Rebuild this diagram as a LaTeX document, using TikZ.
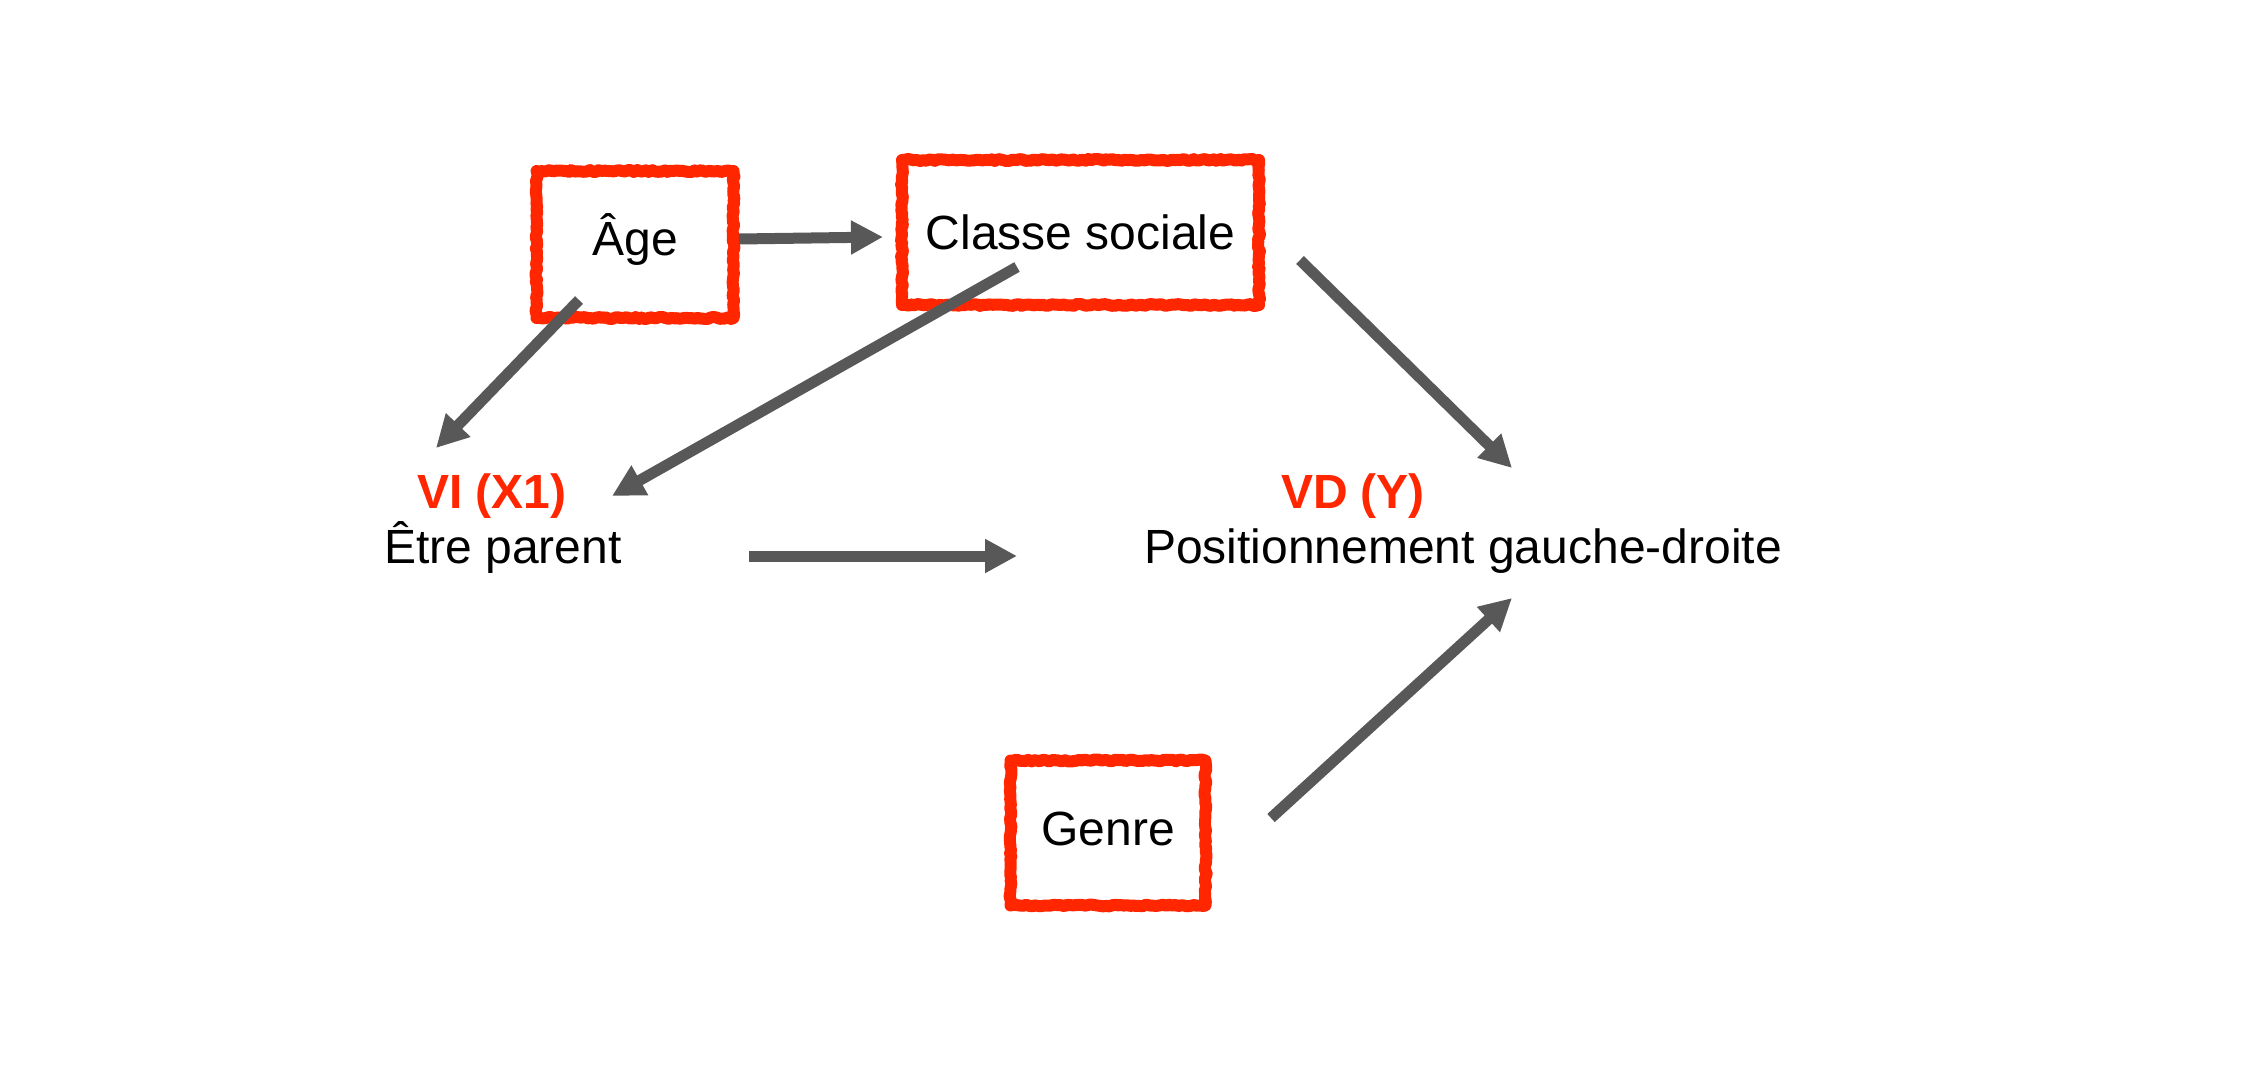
\documentclass[tikz,border=0pt]{standalone}
\usepackage{fontspec}
\setmainfont{Liberation Sans}
\usetikzlibrary{arrows.meta,calc,decorations.pathmorphing}
\definecolor{boxred}{RGB}{255,38,0}
\definecolor{arrowgray}{RGB}{88,88,88}
\begin{document}
\begin{tikzpicture}[x=1pt,y=-1pt,
  txt/.style={font=\fontsize{48}{57}\selectfont, inner sep=0pt},
  redtxt/.style={font=\fontsize{48}{57}\selectfont\bfseries, text=boxred, inner sep=0pt},
  redbox/.style={draw=boxred, line width=12pt, line join=round, inner sep=0pt,
    font=\fontsize{48}{57}\selectfont,
    decorate, decoration={random steps, segment length=3pt, amplitude=1pt}},
  link/.style={draw=arrowgray, line width=11pt,
    -{Triangle[length=32pt,width=32pt]}}
]
\pgfmathsetseed{7}
\useasboundingbox (0,0) rectangle (2242,1084);
% boxes
\node[redbox, minimum width=197pt, minimum height=147pt, text depth=19pt] (age) at (635,244.5) {Âge};
\node[redbox, minimum width=357pt, minimum height=145pt] (classe) at (1080.5,232.5) {Classe sociale};
\node[redbox, minimum width=195pt, minimum height=145pt, text depth=8pt] (genre) at (1108,833) {Genre};
% text nodes
\node[redtxt, anchor=base] (vi) at (492,508) {VI (X1)};
\node[txt, anchor=base] (etre) at (503,563) {Être parent};
\node[redtxt, anchor=base] (vd) at (1353,508) {VD (Y)};
\node[txt, anchor=base] (pos) at (1463,563) {Positionnement gauche-droite};
% connectors
\draw[link] ($(age.center)+(104,-5.5)$) -- ($(classe.center)+(-197.5,4.5)$);
\draw[link] ($(age.center)+(-56,55.5)$) -- ($(vi.base)+(-56,-60)$);
\draw[link] ($(classe.center)+(-63.5,34.5)$) -- ($(vi.base)+(120,-12)$);
\draw[link] ($(classe.center)+(219.5,27.5)$) -- ($(vd.base)+(159,-40)$);
\draw[link] ($(etre.base)+(246,-7)$) -- ($(pos.base)+(-446,-7)$);
\draw[link] ($(genre.center)+(163,-15)$) -- ($(pos.base)+(49,35)$);
\end{tikzpicture}
\end{document}
